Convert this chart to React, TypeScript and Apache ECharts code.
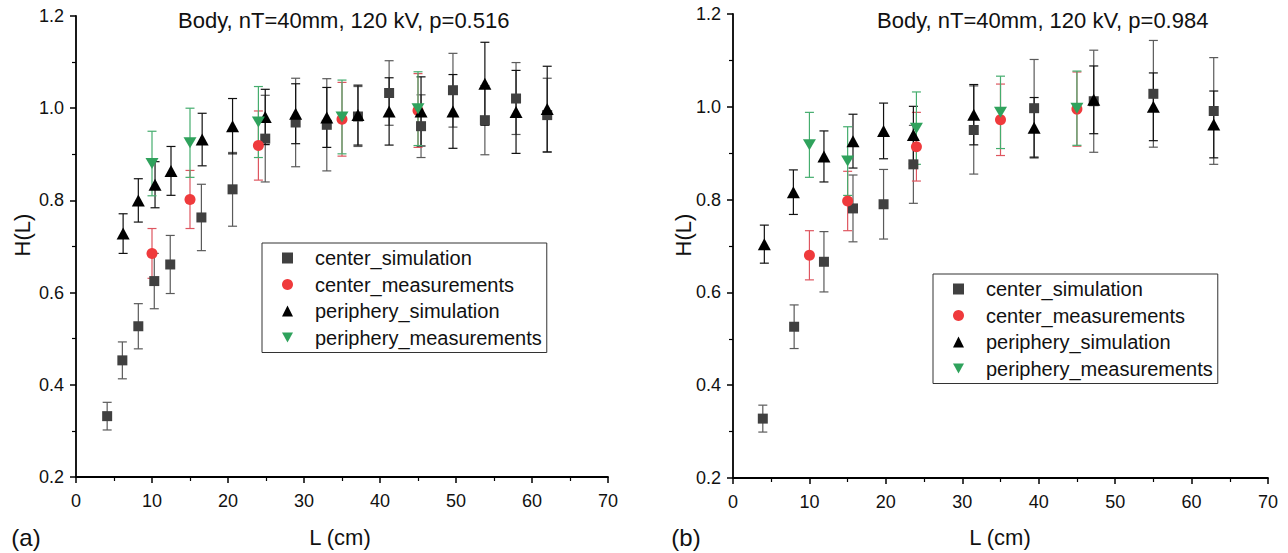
import React, { useEffect, useRef } from 'react';
import * as echarts from 'echarts';

const FONT = '"Liberation Sans", Arial, Helvetica, sans-serif';

const SERIES_NAMES = ['center_simulation', 'center_measurements', 'periphery_simulation', 'periphery_measurements'];
const TITLES = ['Body, nT=40mm, 120 kV, p=0.516', 'Body, nT=40mm, 120 kV, p=0.984'];
const PANEL_LABELS = ['(a)', '(b)'];
const X_NAME = 'L (cm)';
const Y_NAME = 'H(L)';

// ---------- Panel (a) ----------
const centerSimA_L = [4.1, 6.1, 8.2, 10.3, 12.4, 16.5, 20.6, 24.9, 28.9, 33.0, 37.1, 41.2, 45.4, 49.6, 53.8, 57.9, 62.0];
const centerSimA_H = [0.332, 0.453, 0.527, 0.625, 0.661, 0.763, 0.824, 0.934, 0.969, 0.964, 0.982, 1.033, 0.961, 1.039, 0.974, 1.021, 0.985];
const centerSimA_E = [0.03, 0.04, 0.049, 0.06, 0.063, 0.072, 0.08, 0.094, 0.096, 0.1, 0.065, 0.07, 0.068, 0.08, 0.075, 0.078, 0.08];

const centerMeasA_L = [10, 15, 24, 35, 45];
const centerMeasA_H = [0.685, 0.802, 0.919, 0.976, 0.995];
const centerMeasA_E = [0.054, 0.063, 0.075, 0.08, 0.08];

const periphSimA_L = [6.2, 8.2, 10.4, 12.5, 16.6, 20.6, 24.9, 28.9, 33.0, 37.1, 41.2, 45.4, 49.6, 53.8, 57.9, 62.0];
const periphSimA_H = [0.728, 0.8, 0.834, 0.864, 0.932, 0.961, 0.981, 0.988, 0.98, 0.985, 0.993, 0.993, 0.993, 1.053, 0.992, 0.998];
const periphSimA_E = [0.043, 0.047, 0.05, 0.053, 0.057, 0.06, 0.06, 0.065, 0.065, 0.065, 0.073, 0.075, 0.08, 0.09, 0.09, 0.093];

const periphMeasA_L = [10, 15, 24, 35, 45];
const periphMeasA_H = [0.88, 0.925, 0.97, 0.981, 0.999];
const periphMeasA_E = [0.07, 0.075, 0.077, 0.08, 0.08];

// ---------- Panel (b) ----------
const centerSimB_L = [3.9, 8.0, 11.9, 15.7, 19.7, 23.6, 31.5, 39.4, 47.2, 55.0, 62.9];
const centerSimB_H = [0.328, 0.526, 0.666, 0.781, 0.79, 0.876, 0.95, 0.997, 1.012, 1.028, 0.991];
const centerSimB_E = [0.029, 0.047, 0.065, 0.072, 0.075, 0.084, 0.095, 0.105, 0.11, 0.115, 0.115];

const centerMeasB_L = [10, 15, 24, 35, 45];
const centerMeasB_H = [0.68, 0.797, 0.914, 0.972, 0.995];
const centerMeasB_E = [0.053, 0.064, 0.074, 0.077, 0.08];

const periphSimB_L = [4.1, 7.9, 11.9, 15.7, 19.7, 23.6, 31.5, 39.4, 47.2, 55.0, 62.9];
const periphSimB_H = [0.704, 0.816, 0.893, 0.926, 0.948, 0.939, 0.983, 0.955, 1.015, 1.0, 0.962];
const periphSimB_E = [0.041, 0.048, 0.055, 0.058, 0.06, 0.062, 0.065, 0.065, 0.073, 0.073, 0.072];

const periphMeasB_L = [10, 15, 24, 35, 45];
const periphMeasB_H = [0.918, 0.883, 0.954, 0.988, 0.997];
const periphMeasB_E = [0.07, 0.074, 0.078, 0.078, 0.08];

const X_TICKS = [0, 10, 20, 30, 40, 50, 60, 70];
const Y_TICKS = [0.2, 0.4, 0.6, 0.8, 1.0, 1.2];

const PANELS = [
  {
    center_simulation: [centerSimA_L, centerSimA_H, centerSimA_E],
    center_measurements: [centerMeasA_L, centerMeasA_H, centerMeasA_E],
    periphery_simulation: [periphSimA_L, periphSimA_H, periphSimA_E],
    periphery_measurements: [periphMeasA_L, periphMeasA_H, periphMeasA_E],
  },
  {
    center_simulation: [centerSimB_L, centerSimB_H, centerSimB_E],
    center_measurements: [centerMeasB_L, centerMeasB_H, centerMeasB_E],
    periphery_simulation: [periphSimB_L, periphSimB_H, periphSimB_E],
    periphery_measurements: [periphMeasB_L, periphMeasB_H, periphMeasB_E],
  },
];

const STYLES: Record<string, any> = {
  center_simulation: { symbol: 'rect', size: 10, color: '#404040', err: '#5a5a5a' },
  center_measurements: { symbol: 'circle', size: 11, color: '#ef3a3c', err: '#de5660' },
  periphery_simulation: { symbol: 'triangle', size: [13, 12], color: '#000000', err: '#111111' },
  periphery_measurements: { symbol: 'path://M0,0L12,0L6,11Z', size: [13, 11], color: '#2fa25c', err: '#45ad6e' },
};

const GRIDS = [
  { left: 76, top: 16, width: 532, height: 461 },
  { left: 733, top: 14, width: 535, height: 464 },
];

function buildSeries() {
  const series: any[] = [];
  PANELS.forEach((panel: any, pi) => {
    SERIES_NAMES.forEach((name) => {
      const [L, H, E] = panel[name];
      const st = STYLES[name];
      series.push({
        type: 'custom',
        name: name + '_err',
        xAxisIndex: pi,
        yAxisIndex: pi,
        z: 2,
        silent: true,
        encode: { x: 0, y: [1, 2] },
        data: L.map((x: number, i: number) => [x, H[i] - E[i], H[i] + E[i]]),
        renderItem: (params: any, api: any) => {
          const x = api.value(0);
          const lo = api.coord([x, api.value(1)]);
          const hi = api.coord([x, api.value(2)]);
          const w = 4.5;
          const style = { stroke: st.err, lineWidth: 1.2 };
          return {
            type: 'group',
            children: [
              { type: 'line', shape: { x1: lo[0], y1: lo[1], x2: hi[0], y2: hi[1] }, style },
              { type: 'line', shape: { x1: lo[0] - w, y1: lo[1], x2: lo[0] + w, y2: lo[1] }, style },
              { type: 'line', shape: { x1: hi[0] - w, y1: hi[1], x2: hi[0] + w, y2: hi[1] }, style },
            ],
          };
        },
      });
    });
    SERIES_NAMES.forEach((name) => {
      const [L, H] = panel[name];
      const st = STYLES[name];
      series.push({
        type: 'scatter',
        name,
        xAxisIndex: pi,
        yAxisIndex: pi,
        z: 3,
        symbol: st.symbol,
        symbolSize: st.size,
        itemStyle: { color: st.color, opacity: 1 },
        data: L.map((x: number, i: number) => [x, H[i]]),
      });
    });
  });
  return series;
}

function axisCommon() {
  return {
    axisLine: { show: true, onZero: false, lineStyle: { color: '#000', width: 1.8 } },
    axisTick: { show: true, inside: false, length: 6, lineStyle: { color: '#000', width: 1.5 } },
    minorTick: { show: true, splitNumber: 2, length: 4, lineStyle: { color: '#000', width: 1.2 } },
    splitLine: { show: false },
    minorSplitLine: { show: false },
  };
}

function legendAt(left: number, top: number) {
  return {
    data: SERIES_NAMES,
    left,
    top,
    orient: 'vertical',
    itemWidth: 11,
    itemHeight: 11,
    itemGap: 6.5,
    padding: [5, 5, 5, 20],
    borderColor: '#333',
    borderWidth: 1,
    backgroundColor: '#fff',
    selectedMode: false,
    textStyle: { fontFamily: FONT, fontSize: 20, color: '#111', lineHeight: 20, padding: [0, 0, 0, 17] },
  };
}

export default function App() {
  const ref = useRef<HTMLDivElement>(null);
  useEffect(() => {
    if (!ref.current) return;
    const chart = echarts.init(ref.current, undefined, { renderer: 'svg' });
    const xAxes = GRIDS.map((_, i) => ({
      type: 'value',
      gridIndex: i,
      min: X_TICKS[0],
      max: X_TICKS[X_TICKS.length - 1],
      interval: 10,
      axisLabel: { margin: 15, fontFamily: FONT, fontSize: 18, color: '#111' },
      ...axisCommon(),
    }));
    const yAxes = GRIDS.map((_, i) => ({
      type: 'value',
      gridIndex: i,
      min: Y_TICKS[0],
      max: Y_TICKS[Y_TICKS.length - 1],
      interval: 0.2,
      axisLabel: {
        margin: 12,
        fontFamily: FONT,
        fontSize: 18,
        color: '#111',
        formatter: (v: number) => v.toFixed(1),
      },
      ...axisCommon(),
    }));
    const textStyle = (size: number) => ({ fontFamily: FONT, fontSize: size, fill: '#111', align: 'center', verticalAlign: 'middle' });
    chart.setOption({
      animation: false,
      backgroundColor: '#fff',
      title: [
        { text: TITLES[0], left: 178, top: 9, padding: 0, textStyle: { fontFamily: FONT, fontSize: 22, fontWeight: 'normal', color: '#111' } },
        { text: TITLES[1], left: 877, top: 9, padding: 0, textStyle: { fontFamily: FONT, fontSize: 22, fontWeight: 'normal', color: '#111' } },
      ],
      grid: GRIDS.map((g) => ({ ...g, containLabel: false })),
      xAxis: xAxes,
      yAxis: yAxes,
      legend: [legendAt(262, 243), legendAt(933, 274)],
      graphic: [
        { type: 'text', x: 340, y: 537, style: { text: X_NAME, ...textStyle(22) } },
        { type: 'text', x: 1000, y: 537, style: { text: X_NAME, ...textStyle(22) } },
        { type: 'text', x: 26, y: 537, style: { text: PANEL_LABELS[0], ...textStyle(24) } },
        { type: 'text', x: 686, y: 537, style: { text: PANEL_LABELS[1], ...textStyle(24) } },
        { type: 'text', x: 22, y: 235, rotation: Math.PI / 2, style: { text: Y_NAME, ...textStyle(22) } },
        { type: 'text', x: 683, y: 235, rotation: Math.PI / 2, style: { text: Y_NAME, ...textStyle(22) } },
      ],
      series: buildSeries(),
    });
    return () => chart.dispose();
  }, []);
  return (
    <div
      ref={ref}
      style={{ position: 'absolute', left: 0, top: 0, width: 1288, height: 553, background: '#fff' }}
    />
  );
}
